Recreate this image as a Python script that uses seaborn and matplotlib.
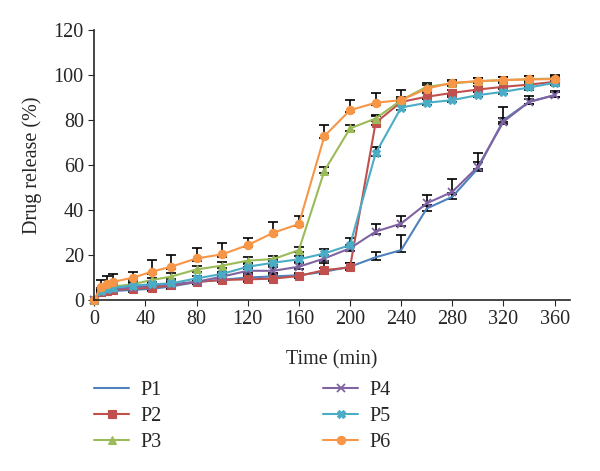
import pandas as pd
import matplotlib
matplotlib.use("Agg")
import matplotlib.pyplot as plt
import numpy as np
import seaborn as sns

# temps de prélèvement (min)
time = [0, 5, 10, 15, 30, 45, 60, 80, 100, 120, 140, 160, 180, 200, 220, 240, 260, 280, 300, 320, 340, 360]

p1 = [0, 3, 3.5, 4, 4.5, 5, 6, 8, 9, 10, 10.5, 11, 12.6, 14.8, 19, 22.2, 40.7, 45.9, 58.5, 80, 88.1, 91.1]
p2 = [0, 3.5, 4, 4.5, 5, 5.5, 6.5, 8.1, 8.9, 9.2, 9.5, 10.7, 13.3, 14.5, 78.8, 88.1, 90.4, 92.1, 93.6, 94.8, 95.8, 97]
p3 = [0, 4.5, 5.5, 6, 7, 8.9, 10.4, 13.6, 15.3, 17.5, 18.2, 22.2, 57.5, 76.3, 80.7, 88.9, 94.8, 96.3, 97.3, 97.8, 98.2, 98.5]
p4 = [0, 3.5, 4.5, 5, 5.5, 6.5, 7, 8.1, 10.4, 13, 13, 14.8, 18.5, 23, 30.4, 34, 43, 48.1, 59.3, 79.3, 88.1, 91.1]
p5 = [0, 4, 5, 5.5, 6.4, 7, 7.4, 9.6, 11.6, 14.8, 16.6, 18.1, 20.7, 24.4, 65.2, 85.6, 87.7, 88.9, 91.1, 92.6, 94.5, 96.6]
p6 = [0, 5.9, 7, 8.1, 9.9, 12.6, 14.8, 18.5, 20.3, 24.4, 29.9, 33.8, 72.9, 84.4, 87.7, 88.9, 94, 96.6, 97.3, 97.8, 98.1, 98.2]

# écarts-types (barre supérieure)
err1 = [0, 1, 1, 1, 1, 1, 1, 1, 1, 1, 1, 1, 1.5, 1.5, 2.5, 6.5, 1.5, 1.5, 7, 5.7, 2.5, 2]
err2 = [0, 1, 1, 1, 1, 1, 1, 1, 1, 1, 1, 1, 3, 2, 3, 1.5, 1.5, 1.5, 1.5, 1.5, 1.5, 1.5]
err3 = [0, 1, 1, 1, 1, 1, 1.5, 1.5, 1.5, 1.5, 1.5, 1.5, 1.5, 1.5, 1.5, 1.5, 1.5, 1.5, 1.5, 1.5, 1.5, 1.5]
err4 = [0, 1, 1, 1, 1, 1, 1, 1, 1, 1.5, 1.5, 1.5, 1.5, 1.5, 3.5, 3.5, 3.5, 5.5, 2, 1.5, 1.5, 1.5]
err5 = [0, 1, 1, 1, 1, 1, 1, 1, 1, 1, 1.5, 1.5, 2, 3, 3, 1.5, 1.5, 1.5, 1.5, 1.5, 1.5, 1.5]
err6 = [0, 3, 3.5, 3.5, 2.5, 5, 5, 4.5, 5, 3, 5, 3.5, 5, 4.5, 4.5, 4.5, 1.5, 1, 1.5, 1.5, 1.5, 1.5]

labels = ["P1", "P2", "P3", "P4", "P5", "P6"]
series = [p1, p2, p3, p4, p5, p6]
errors = [err1, err2, err3, err4, err5, err6]
colors = ["#4F81BD", "#C0504D", "#9BBB59", "#8064A2", "#4BACC6", "#F79646"]
markers = [None, "s", "^", "x", "X", "o"]

sns.set_style("ticks")
plt.rcParams['font.family'] = ['Liberation Serif', 'DejaVu Serif']
fs = 14.5

fig = plt.figure(figsize=(6, 4.71), dpi=100)
ax = fig.add_axes([0.157, 0.363, 0.793, 0.573])

# barres d'erreur
for lab, vals, err, col in zip(labels, series, errors, colors):
    low = [min(e, 1.0) for e in err]
    ax.errorbar(time, vals, yerr=[low, err], fmt="none", ecolor="black",
                elinewidth=1.2, capsize=3.5, capthick=1.2, zorder=1)

for lab, vals, col, mk in zip(labels, series, colors, markers):
    d = pd.DataFrame({"Time": time, "Release": vals})
    kw = {}
    if mk is not None:
        kw = dict(marker=mk, markersize=6 if mk != "x" else 5.5,
                  markeredgewidth=1.3 if mk == "x" else 0.8,
                  markeredgecolor=col, markerfacecolor=col)
    sns.lineplot(data=d, x="Time", y="Release", color=col, linewidth=1.5,
                 label=lab, ax=ax, zorder=2, clip_on=False, **kw)

handles, labs = ax.get_legend_handles_labels()
ax.get_legend().remove()
fig.legend(handles, labs, loc="upper left", bbox_to_anchor=(0.157, 0.192), ncol=2,
           frameon=False, handlelength=1.75, handletextpad=0.55, columnspacing=8.0,
           labelspacing=0.35, borderpad=0, borderaxespad=0, fontsize=fs)

ax.set_xlim(0, 372)
ax.set_ylim(0, 120)
ax.set_xticks(range(0, 361, 40))
ax.set_yticks(range(0, 121, 20))
ax.set_xlabel("Time (min)", fontsize=fs, labelpad=15)
ax.set_ylabel("Drug release (%)", fontsize=fs, labelpad=8)
ax.tick_params(direction="out", length=4, labelsize=fs)
sns.despine(ax=ax)
for s in ["left", "bottom"]:
    ax.spines[s].set_linewidth(1.2)

fig.savefig("out.png", dpi=100)
